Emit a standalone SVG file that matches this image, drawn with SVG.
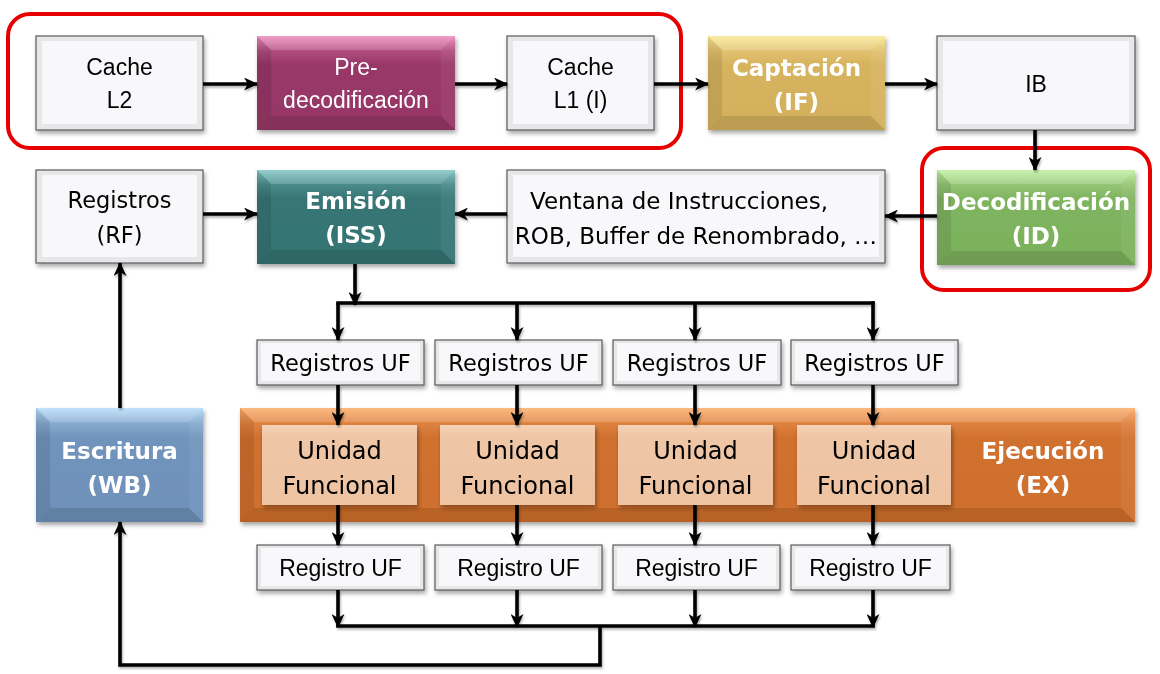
<svg xmlns="http://www.w3.org/2000/svg" width="1160" height="674" viewBox="0 0 1160 674">
<defs>
<style>
.wo{fill:#e7e7ea;stroke:#5a5a5a;stroke-width:1.2}
.wi{fill:#f8f7fa}
.bt{fill:#fff;opacity:.16}
.bl{fill:#000;opacity:.09}
.br{fill:#fff;opacity:.06}
.bb{fill:#000;opacity:.11}
.tc{font-family:"Liberation Sans",Arial,sans-serif;font-size:23px;fill:#000;text-anchor:middle}
.tcw{font-family:"Liberation Sans",Arial,sans-serif;font-size:23px;fill:#fff;text-anchor:middle}
.tr{font-family:"DejaVu Sans",Verdana,sans-serif;font-size:22.5px;fill:#000;text-anchor:middle}
.tv{font-family:"DejaVu Sans",Verdana,sans-serif;font-size:23px;fill:#000;text-anchor:middle}
.tu{font-family:"DejaVu Sans",Verdana,sans-serif;font-size:24px;fill:#000;text-anchor:middle}
.tb{font-family:"DejaVu Sans",Verdana,sans-serif;font-size:23px;font-weight:bold;fill:#fff;text-anchor:middle}
.red{fill:none;stroke:#e60000;stroke-width:4}
.cn{fill:none;stroke:#000;stroke-width:3.6}
.ar{marker-end:url(#ah)}
.uf{fill:url(#gu)}
</style>
<marker id="ah" markerWidth="14" markerHeight="13" refX="13" refY="6.5" orient="auto" markerUnits="userSpaceOnUse">
<path d="M0,0 L14,6.5 L0,13 L4,6.5 z" fill="#000"/>
</marker>
<filter id="sh" x="-10%" y="-10%" width="120%" height="130%">
<feDropShadow dx="1.5" dy="3" stdDeviation="2" flood-color="#000" flood-opacity=".35"/>
</filter>
<filter id="shc" x="-5%" y="-5%" width="110%" height="110%">
<feDropShadow dx="1" dy="2" stdDeviation="1.2" flood-color="#000" flood-opacity=".3"/>
</filter>
<linearGradient id="gm" x1="0" y1="0" x2="0" y2="1"><stop offset="0" stop-color="#ef8cbd"/><stop offset=".16" stop-color="#b04d80"/><stop offset=".3" stop-color="#983868"/><stop offset="1" stop-color="#963666"/></linearGradient>
<linearGradient id="gg" x1="0" y1="0" x2="0" y2="1"><stop offset="0" stop-color="#fbe995"/><stop offset=".16" stop-color="#e2c270"/><stop offset=".3" stop-color="#d6b35e"/><stop offset="1" stop-color="#d4b05c"/></linearGradient>
<linearGradient id="gv" x1="0" y1="0" x2="0" y2="1"><stop offset="0" stop-color="#bff0a2"/><stop offset=".16" stop-color="#94c474"/><stop offset=".3" stop-color="#7fb45f"/><stop offset="1" stop-color="#7cb15c"/></linearGradient>
<linearGradient id="gt" x1="0" y1="0" x2="0" y2="1"><stop offset="0" stop-color="#80c4c4"/><stop offset=".16" stop-color="#4a8a89"/><stop offset=".3" stop-color="#377675"/><stop offset="1" stop-color="#357372"/></linearGradient>
<linearGradient id="gb" x1="0" y1="0" x2="0" y2="1"><stop offset="0" stop-color="#b4dcfa"/><stop offset=".14" stop-color="#86a9cf"/><stop offset=".26" stop-color="#7194bc"/><stop offset="1" stop-color="#6e91b9"/></linearGradient>
<linearGradient id="go" x1="0" y1="0" x2="0" y2="1"><stop offset="0" stop-color="#fbac68"/><stop offset=".14" stop-color="#de8140"/><stop offset=".26" stop-color="#d1712f"/><stop offset="1" stop-color="#cf6f2d"/></linearGradient>
<linearGradient id="gu" x1="0" y1="0" x2="0" y2="1"><stop offset="0" stop-color="#f4d2b6"/><stop offset=".15" stop-color="#efc6a6"/><stop offset="1" stop-color="#edc3a2"/></linearGradient>
</defs>
<rect width="1160" height="674" fill="#fff"/>

<g id="redbox1"><rect class="red" x="8" y="14" width="673" height="134" rx="22"/></g>
<g id="redbox2"><rect class="red" x="922" y="148" width="228" height="142" rx="22"/></g>

<g id="cache-l2" filter="url(#sh)">
<rect class="wo" x="36" y="36" width="167" height="94"/>
<rect class="wi" x="42" y="41" width="155" height="83"/>
<text class="tc" x="119.5" y="75">Cache</text>
<text class="tc" x="119.5" y="108">L2</text>
</g>

<g id="predecodificacion" filter="url(#sh)">
<rect x="257" y="36" width="198" height="94" fill="url(#gm)"/>
<polygon class="bl" points="257,36 271,50 271,116 257,130"/>
<polygon class="br" points="455,36 455,130 441,116 441,50"/>
<polygon class="bb" points="257,130 271,116 441,116 455,130"/>
<polygon class="bt" points="257,36 455,36 441,50 271,50"/>
<text class="tcw" x="356" y="75">Pre-</text>
<text class="tcw" x="356" y="108">decodificación</text>
</g>

<g id="cache-l1" filter="url(#sh)">
<rect class="wo" x="507" y="36" width="147" height="94"/>
<rect class="wi" x="513" y="41" width="135" height="83"/>
<text class="tc" x="580.5" y="75">Cache</text>
<text class="tc" x="580.5" y="108">L1 (I)</text>
</g>

<g id="captacion" filter="url(#sh)">
<rect x="708" y="36" width="177" height="94" fill="url(#gg)"/>
<polygon class="bl" points="708,36 722,50 722,116 708,130"/>
<polygon class="br" points="885,36 885,130 871,116 871,50"/>
<polygon class="bb" points="708,130 722,116 871,116 885,130"/>
<polygon class="bt" points="708,36 885,36 871,50 722,50"/>
<text class="tb" x="796.5" y="76">Captación</text>
<text class="tb" x="796.5" y="110">(IF)</text>
</g>

<g id="ib" filter="url(#sh)">
<rect class="wo" x="937" y="36" width="198" height="94"/>
<rect class="wi" x="943" y="41" width="186" height="83"/>
<text class="tc" x="1036" y="92">IB</text>
</g>

<g id="decodificacion" filter="url(#sh)">
<rect x="937" y="170" width="198" height="95" fill="url(#gv)"/>
<polygon class="bl" points="937,170 951,184 951,251 937,265"/>
<polygon class="br" points="1135,170 1135,265 1121,251 1121,184"/>
<polygon class="bb" points="937,265 951,251 1121,251 1135,265"/>
<polygon class="bt" points="937,170 1135,170 1121,184 951,184"/>
<text class="tb" x="1036" y="210">Decodificación</text>
<text class="tb" x="1036" y="244">(ID)</text>
</g>

<g id="ventana" filter="url(#sh)">
<rect class="wo" x="507" y="170" width="378" height="93"/>
<rect class="wi" x="513" y="175" width="366" height="82"/>
<text class="tv" x="679" y="209">Ventana de Instrucciones,</text>
<text class="tv" x="696" y="244">ROB, Buffer de Renombrado, …</text>
</g>

<g id="emision" filter="url(#sh)">
<rect x="257" y="170" width="198" height="94" fill="url(#gt)"/>
<polygon class="bl" points="257,170 271,184 271,250 257,264"/>
<polygon class="br" points="455,170 455,264 441,250 441,184"/>
<polygon class="bb" points="257,264 271,250 441,250 455,264"/>
<polygon class="bt" points="257,170 455,170 441,184 271,184"/>
<text class="tb" x="356" y="209">Emisión</text>
<text class="tb" x="356" y="243">(ISS)</text>
</g>

<g id="registros-rf" filter="url(#sh)">
<rect class="wo" x="36" y="170" width="167" height="93"/>
<rect class="wi" x="42" y="175" width="155" height="82"/>
<text class="tr" x="119.5" y="208">Registros</text>
<text class="tr" x="119.5" y="243">(RF)</text>
</g>

<g id="registros-uf-1" filter="url(#sh)">
<rect class="wo" x="257" y="340" width="167" height="45"/>
<rect class="wi" x="261" y="343" width="159" height="38"/>
<text class="tr" x="340.5" y="371">Registros UF</text>
</g>
<g id="registros-uf-2" filter="url(#sh)">
<rect class="wo" x="435" y="340" width="167" height="45"/>
<rect class="wi" x="439" y="343" width="159" height="38"/>
<text class="tr" x="518.5" y="371">Registros UF</text>
</g>
<g id="registros-uf-3" filter="url(#sh)">
<rect class="wo" x="613" y="340" width="168" height="45"/>
<rect class="wi" x="617" y="343" width="160" height="38"/>
<text class="tr" x="697" y="371">Registros UF</text>
</g>
<g id="registros-uf-4" filter="url(#sh)">
<rect class="wo" x="791" y="340" width="167" height="45"/>
<rect class="wi" x="795" y="343" width="159" height="38"/>
<text class="tr" x="874.5" y="371">Registros UF</text>
</g>

<g id="ejecucion" filter="url(#sh)">
<rect x="240" y="408" width="895" height="114" fill="url(#go)"/>
<polygon class="bl" points="240,408 254,422 254,508 240,522"/>
<polygon class="br" points="1135,408 1135,522 1121,508 1121,422"/>
<polygon class="bb" points="240,522 254,508 1121,508 1135,522"/>
<polygon class="bt" points="240,408 1135,408 1121,422 254,422"/>
<text class="tb" x="1043" y="459">Ejecución</text>
<text class="tb" x="1043" y="493">(EX)</text>
</g>

<g id="unidad-funcional-1" filter="url(#sh)">
<rect class="uf" x="262" y="425" width="155" height="80"/>
<text class="tu" x="339.5" y="459">Unidad</text>
<text class="tu" x="339.5" y="494">Funcional</text>
</g>
<g id="unidad-funcional-2" filter="url(#sh)">
<rect class="uf" x="440" y="425" width="155" height="80"/>
<text class="tu" x="517.5" y="459">Unidad</text>
<text class="tu" x="517.5" y="494">Funcional</text>
</g>
<g id="unidad-funcional-3" filter="url(#sh)">
<rect class="uf" x="618" y="425" width="155" height="80"/>
<text class="tu" x="695.5" y="459">Unidad</text>
<text class="tu" x="695.5" y="494">Funcional</text>
</g>
<g id="unidad-funcional-4" filter="url(#sh)">
<rect class="uf" x="797" y="425" width="154" height="80"/>
<text class="tu" x="874" y="459">Unidad</text>
<text class="tu" x="874" y="494">Funcional</text>
</g>

<g id="escritura" filter="url(#sh)">
<rect x="36" y="408" width="167" height="114" fill="url(#gb)"/>
<polygon class="bl" points="36,408 50,422 50,508 36,522"/>
<polygon class="br" points="203,408 203,522 189,508 189,422"/>
<polygon class="bb" points="36,522 50,508 189,508 203,522"/>
<polygon class="bt" points="36,408 203,408 189,422 50,422"/>
<text class="tb" x="119.5" y="459">Escritura</text>
<text class="tb" x="119.5" y="493">(WB)</text>
</g>

<g id="registro-uf-1" filter="url(#sh)">
<rect class="wo" x="257" y="545" width="167" height="45"/>
<rect class="wi" x="261" y="548" width="159" height="38"/>
<text class="tc" x="340.5" y="576">Registro UF</text>
</g>
<g id="registro-uf-2" filter="url(#sh)">
<rect class="wo" x="435" y="545" width="167" height="45"/>
<rect class="wi" x="439" y="548" width="159" height="38"/>
<text class="tc" x="518.5" y="576">Registro UF</text>
</g>
<g id="registro-uf-3" filter="url(#sh)">
<rect class="wo" x="613" y="545" width="167" height="45"/>
<rect class="wi" x="617" y="548" width="159" height="38"/>
<text class="tc" x="696.5" y="576">Registro UF</text>
</g>
<g id="registro-uf-4" filter="url(#sh)">
<rect class="wo" x="791" y="545" width="159" height="45"/>
<rect class="wi" x="795" y="548" width="151" height="38"/>
<text class="tc" x="870.5" y="576">Registro UF</text>
</g>

<g id="connectors" filter="url(#shc)">
<path class="cn ar" d="M203,84 H257"/>
<path class="cn ar" d="M455,84 H507"/>
<path class="cn ar" d="M654,84 H708"/>
<path class="cn ar" d="M885,84 H937"/>
<path class="cn ar" d="M1035,130 V170"/>
<path class="cn ar" d="M937,216 H885"/>
<path class="cn ar" d="M507,214 H455"/>
<path class="cn ar" d="M203,214 H257"/>
<path class="cn ar" d="M355,264 V305"/>
<path class="cn" d="M336.2,303 H874.8"/>
<path class="cn ar" d="M338,303 V340"/>
<path class="cn ar" d="M517,303 V340"/>
<path class="cn ar" d="M695,303 V340"/>
<path class="cn ar" d="M873,301.2 V340"/>
<path class="cn ar" d="M120,408 V263"/>
<path class="cn ar" d="M600,626 V665 H120 V522"/>
<path class="cn" d="M336.2,626 H874.8"/>
<path class="cn ar" d="M338,385 V425"/>
<path class="cn ar" d="M517,385 V425"/>
<path class="cn ar" d="M695,385 V425"/>
<path class="cn ar" d="M873,385 V425"/>
<path class="cn ar" d="M338,505 V545"/>
<path class="cn ar" d="M517,505 V545"/>
<path class="cn ar" d="M695,505 V545"/>
<path class="cn ar" d="M873,505 V545"/>
<path class="cn ar" d="M338,590 V627"/>
<path class="cn ar" d="M517,590 V627"/>
<path class="cn ar" d="M695,590 V627"/>
<path class="cn ar" d="M873,590 V627"/>
</g>
</svg>
